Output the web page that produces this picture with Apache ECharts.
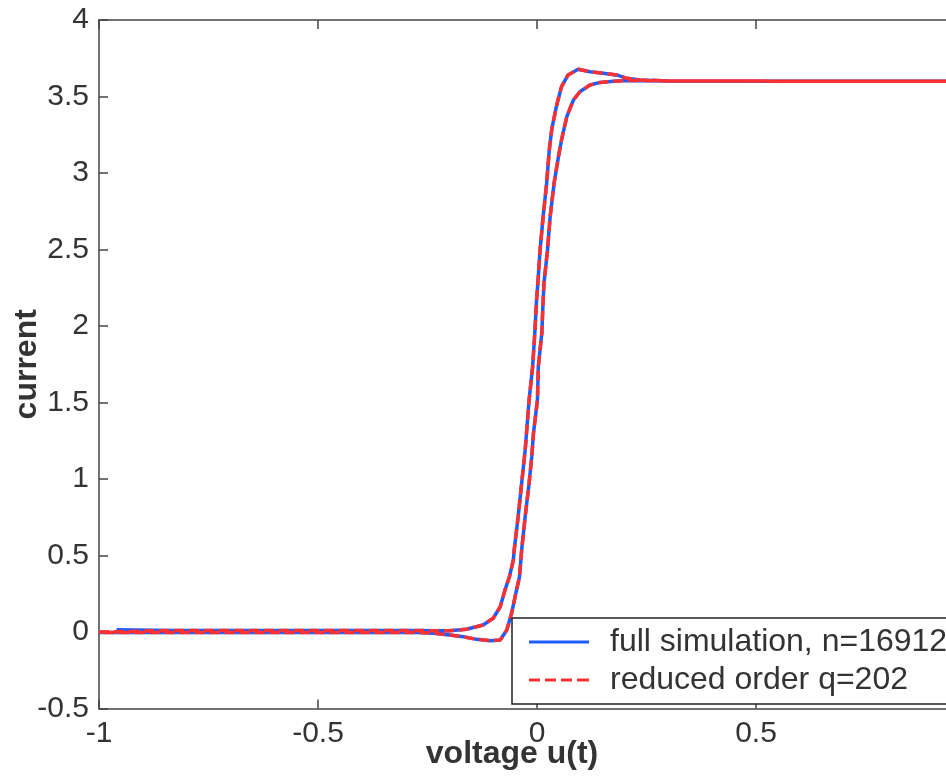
<!DOCTYPE html>
<html>
<head>
<meta charset="utf-8">
<script src="https://cdn.jsdelivr.net/npm/echarts@6/dist/echarts.min.js"></script>
<style>
html,body{margin:0;padding:0;background:#fff;}
#chart{width:946px;height:779px;}
</style>
</head>
<body>
<div id="chart"></div>
<script>
// Tick values
const xTicks = [-1, -0.5, 0, 0.5, 1];
const yTicks = [-0.5, 0, 0.5, 1, 1.5, 2, 2.5, 3, 3.5, 4];

// Start points of each trace (voltage, current)
const fullStartX = [-0.96];
const fullStartY = [0.015];
const reducedStartX = [-1.0];
const reducedStartY = [0.0];

// Rising branch (left curve, overshoot at top)
const riseX = [-0.83, -0.7, -0.5, -0.3, -0.2, -0.161, -0.123, -0.100, -0.084, -0.073, -0.063, -0.054, -0.052, -0.043, -0.035, -0.027, -0.018, -0.010, -0.005, -0.001, 0.002, 0.007, 0.014, 0.022, 0.028, 0.034, 0.045, 0.056, 0.071, 0.094, 0.121, 0.151, 0.182, 0.205, 0.235, 0.3, 0.6, 1.0];
const riseY = [0.01, 0.01, 0.01, 0.01, 0.008, 0.018, 0.046, 0.090, 0.165, 0.275, 0.361, 0.471, 0.536, 0.754, 0.972, 1.190, 1.516, 1.734, 1.954, 2.170, 2.281, 2.497, 2.714, 2.933, 3.150, 3.292, 3.444, 3.564, 3.641, 3.678, 3.662, 3.652, 3.641, 3.619, 3.608, 3.602, 3.6, 3.6];

// Falling branch (right curve, undershoot at bottom)
const fallX = [1.0, 0.6, 0.3, 0.205, 0.174, 0.144, 0.121, 0.098, 0.083, 0.068, 0.056, 0.049, 0.039, 0.030, 0.024, 0.016, 0.014, 0.011, 0.003, 0.001, -0.008, -0.012, -0.018, -0.027, -0.035, -0.040, -0.050, -0.058, -0.069, -0.084, -0.107, -0.138, -0.168, -0.199, -0.237, -0.275, -0.4, -0.7, -1.0];
const fallY = [3.6, 3.6, 3.602, 3.605, 3.600, 3.592, 3.575, 3.531, 3.477, 3.368, 3.216, 3.107, 2.933, 2.714, 2.497, 2.281, 2.170, 1.954, 1.734, 1.516, 1.301, 1.146, 0.972, 0.754, 0.536, 0.361, 0.231, 0.122, 0.013, -0.052, -0.057, -0.048, -0.031, -0.020, -0.008, -0.003, -0.003, -0.003, -0.003];

const seriesNames = ['full simulation, n=16912', 'reduced order q=202'];

function buildLoop(sx, sy) {
  const pts = [];
  for (let i = 0; i < sx.length; i++) pts.push([sx[i], sy[i]]);
  for (let i = 0; i < riseX.length; i++) pts.push([riseX[i], riseY[i]]);
  for (let i = 0; i < fallX.length; i++) pts.push([fallX[i], fallY[i]]);
  return pts;
}

const FONT = 'Liberation Sans, Arial, Helvetica, sans-serif';
const TXT = '#333';
const AX = '#444';
const BLUE = '#1f5cff';
const RED = '#ff3030';

const chart = echarts.init(document.getElementById('chart'), null, {renderer: 'canvas'});
chart.setOption({
  animation: false,
  backgroundColor: '#fff',
  grid: {left: 99, top: 20, bottom: 70.5, right: -29, containLabel: false, outerBoundsMode: 'none'},
  xAxis: [{
    type: 'value', min: -1, max: 1, interval: 0.5, position: 'bottom',
    name: 'voltage u(t)', nameLocation: 'middle', nameGap: 30, nameMoveOverlap: false,
    nameTextStyle: {fontFamily: FONT, fontSize: 32, fontWeight: 'bold', color: TXT, padding: [0, 50, 0, 0]},
    axisLine: {show: true, onZero: false, lineStyle: {color: AX, width: 1.5}},
    axisTick: {show: true, inside: true, length: 9, lineStyle: {color: AX, width: 1.5}},
    axisLabel: {fontFamily: FONT, fontSize: 30, color: TXT, margin: 10,
      formatter: v => String(v)},
    splitLine: {show: false}
  }, {
    type: 'value', min: -1, max: 1, interval: 0.5, position: 'top',
    axisLine: {show: true, onZero: false, lineStyle: {color: AX, width: 1.5}},
    axisTick: {show: true, inside: true, length: 9, lineStyle: {color: AX, width: 1.5}},
    axisLabel: {show: false},
    splitLine: {show: false}
  }],
  yAxis: [{
    type: 'value', min: -0.5, max: 4, interval: 0.5,
    name: 'current', nameLocation: 'middle', nameGap: 56, nameRotate: 90, nameMoveOverlap: false,
    nameTextStyle: {fontFamily: FONT, fontSize: 32, fontWeight: 'bold', color: TXT},
    axisLine: {show: true, onZero: false, lineStyle: {color: AX, width: 1.5}},
    axisTick: {show: true, inside: true, length: 9, lineStyle: {color: AX, width: 1.5}},
    axisLabel: {fontFamily: FONT, fontSize: 30, color: TXT, margin: 10,
      formatter: v => String(v)},
    splitLine: {show: false}
  }],
  legend: {
    orient: 'vertical', left: 512, top: 618,
    itemWidth: 60, itemHeight: 3, itemGap: 4,
    padding: [7, 40, 7, 17],
    borderColor: '#222', borderWidth: 1.5, backgroundColor: '#fff',
    textStyle: {fontFamily: FONT, fontSize: 32, color: TXT, lineHeight: 34, padding: [0, 0, 0, 16]},
    data: [
      {name: seriesNames[0], icon: 'path://M0,0H60V3H0Z', itemStyle: {color: BLUE}},
      {name: seriesNames[1], icon: 'path://M0,0H11V3H0Z M16,0H27V3H16Z M32,0H43V3H32Z M48,0H60V3H48Z', itemStyle: {color: RED}}
    ]
  },
  series: [{
    name: seriesNames[0], type: 'line', xAxisIndex: 0, yAxisIndex: 0,
    data: buildLoop(fullStartX, fullStartY),
    showSymbol: false, symbol: 'none',
    lineStyle: {color: BLUE, width: 3.5, type: 'solid'},
    itemStyle: {color: BLUE}
  }, {
    name: seriesNames[1], type: 'line', xAxisIndex: 0, yAxisIndex: 0,
    data: buildLoop(reducedStartX, reducedStartY),
    showSymbol: false, symbol: 'none',
    lineStyle: {color: RED, width: 3.5, type: [10, 5]},
    itemStyle: {color: RED}
  }]
});
</script>
</body>
</html>
